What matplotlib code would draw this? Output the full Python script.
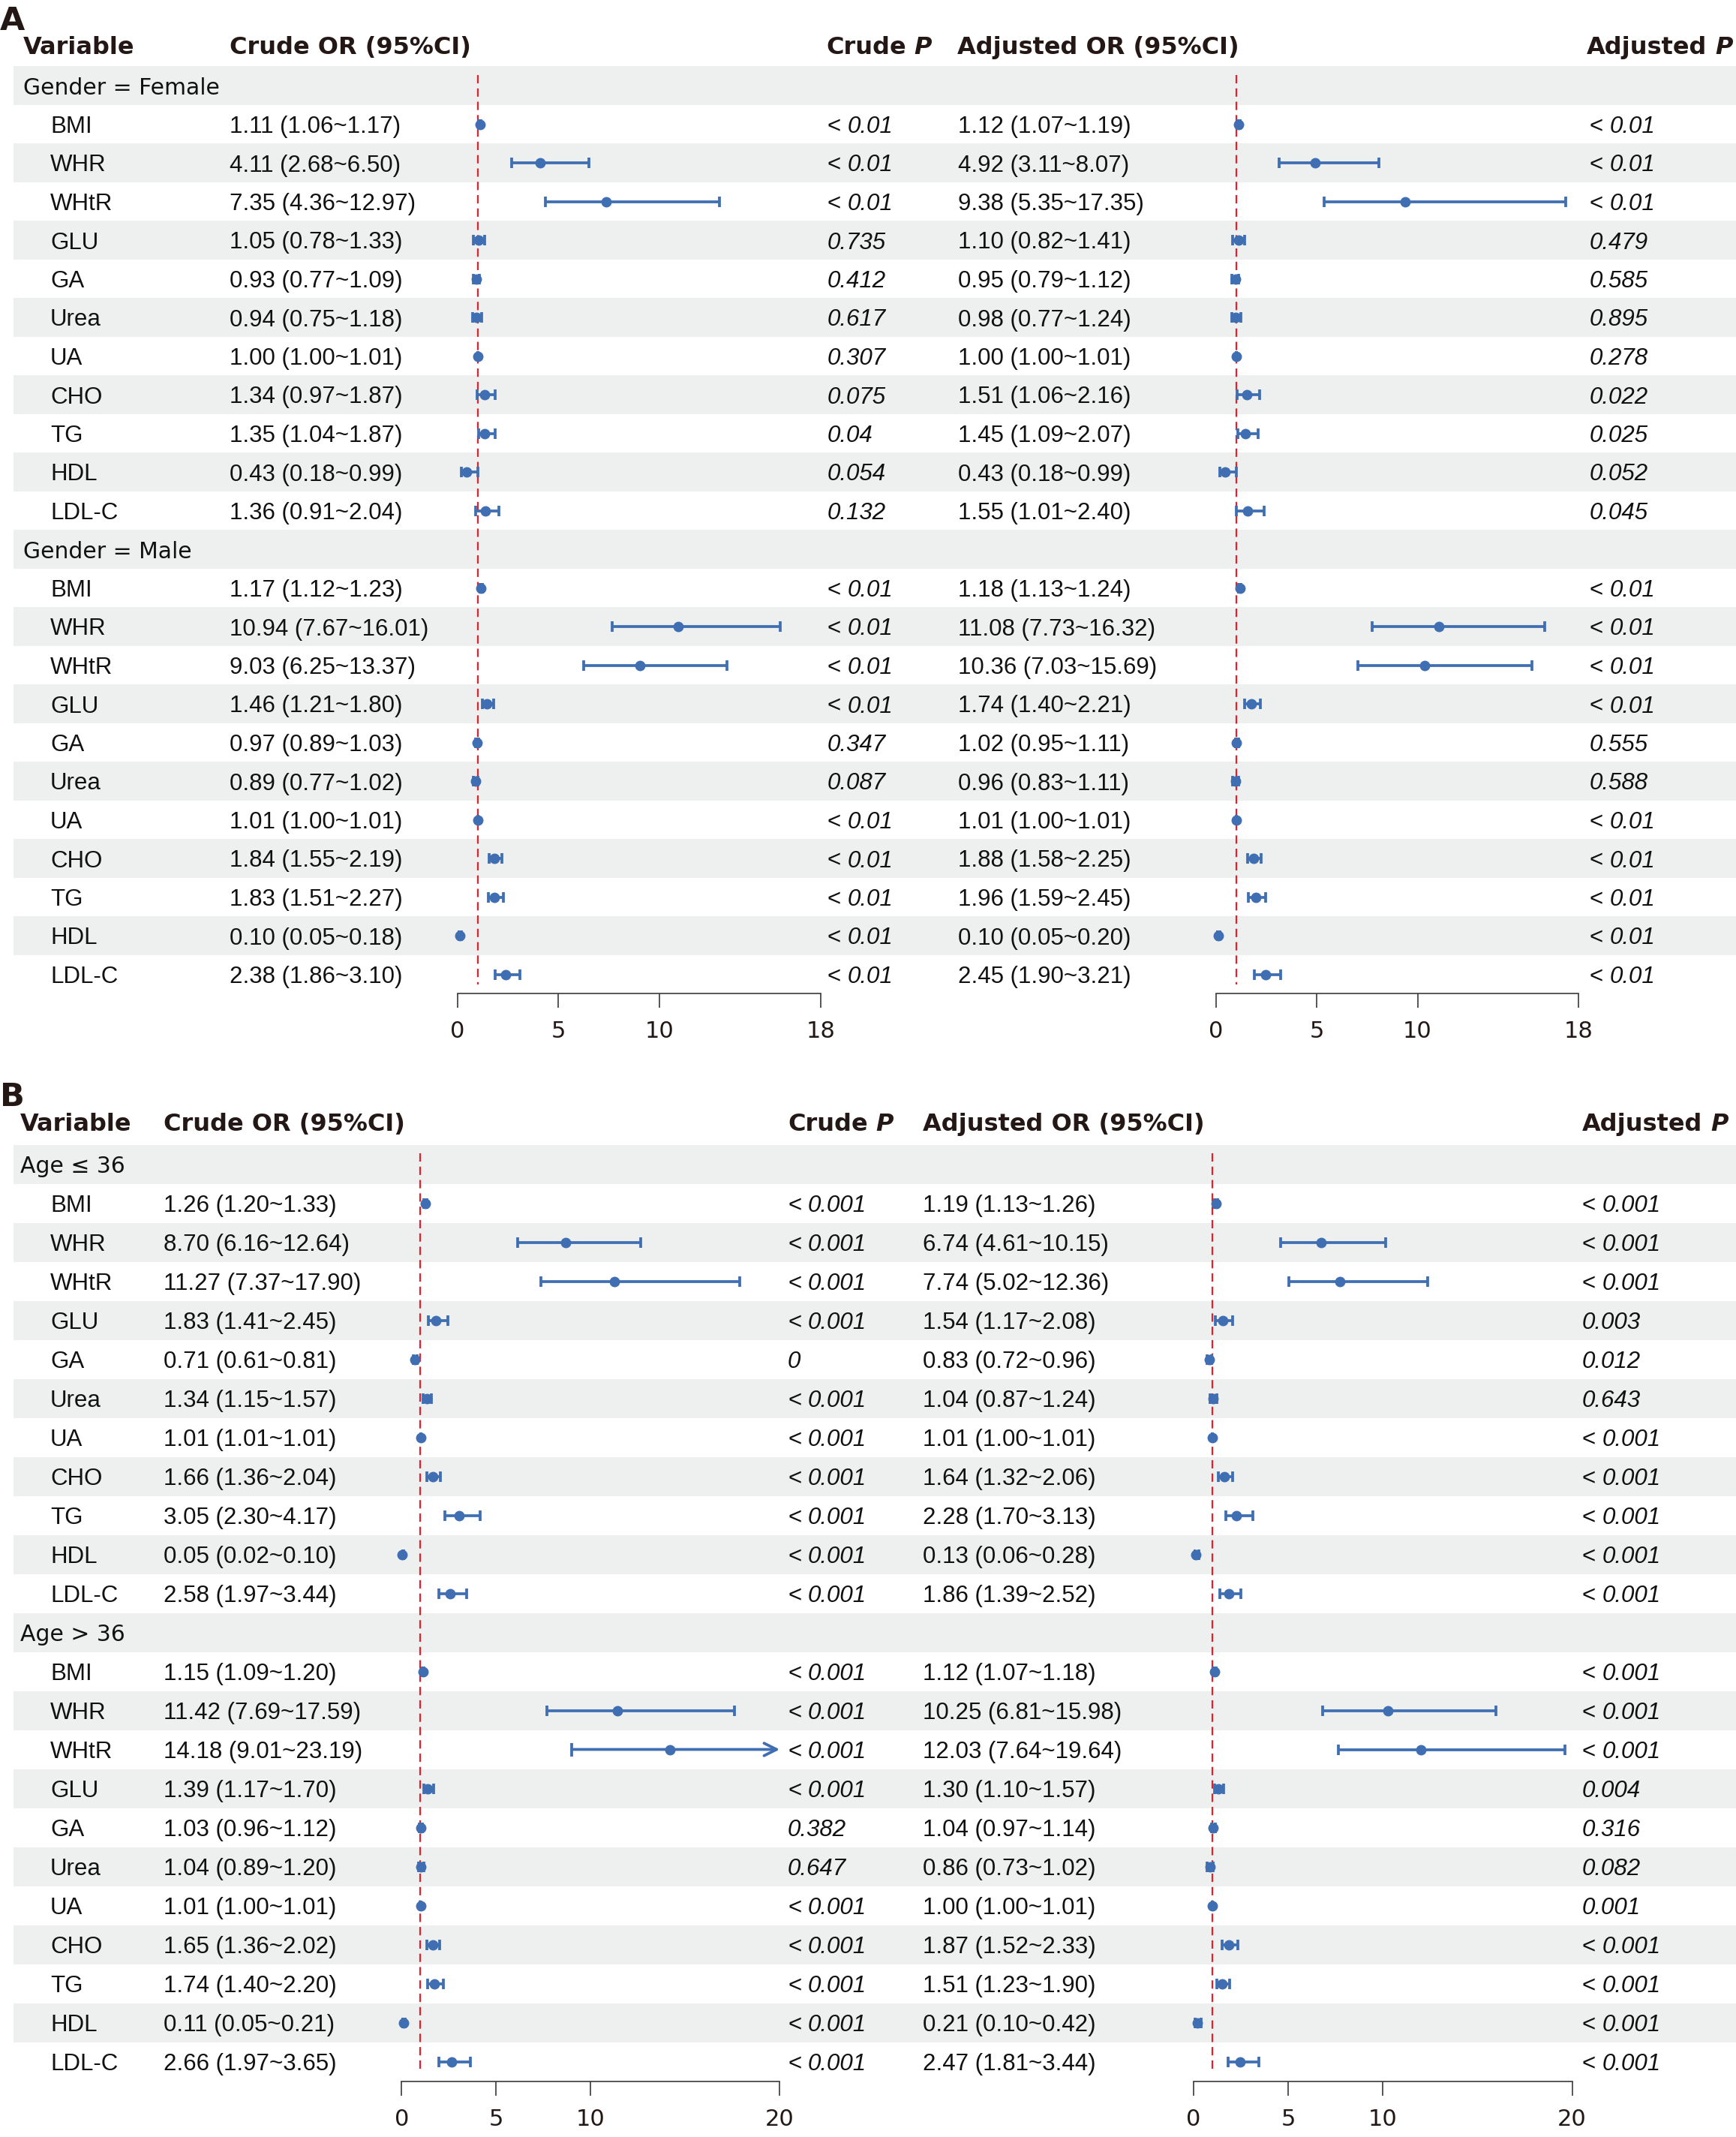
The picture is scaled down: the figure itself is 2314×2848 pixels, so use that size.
import matplotlib
matplotlib.use("Agg")
import matplotlib.pyplot as plt

W, H = 2314, 2848

# ---------------- data ----------------
variables = ["BMI", "WHR", "WHtR", "GLU", "GA", "Urea", "UA", "CHO", "TG", "HDL", "LDL-C"]

a_groups = ["Gender = Female", "Gender = Male"]
a_crude_or = [1.11, 4.11, 7.35, 1.05, 0.93, 0.94, 1.00, 1.34, 1.35, 0.43, 1.36,
              1.17, 10.94, 9.03, 1.46, 0.97, 0.89, 1.01, 1.84, 1.83, 0.10, 2.38]
a_crude_lo = [1.06, 2.68, 4.36, 0.78, 0.77, 0.75, 1.00, 0.97, 1.04, 0.18, 0.91,
              1.12, 7.67, 6.25, 1.21, 0.89, 0.77, 1.00, 1.55, 1.51, 0.05, 1.86]
a_crude_hi = [1.17, 6.50, 12.97, 1.33, 1.09, 1.18, 1.01, 1.87, 1.87, 0.99, 2.04,
              1.23, 16.01, 13.37, 1.80, 1.03, 1.02, 1.01, 2.19, 2.27, 0.18, 3.10]
a_crude_p = ["< 0.01", "< 0.01", "< 0.01", "0.735", "0.412", "0.617", "0.307", "0.075", "0.04", "0.054", "0.132",
             "< 0.01", "< 0.01", "< 0.01", "< 0.01", "0.347", "0.087", "< 0.01", "< 0.01", "< 0.01", "< 0.01", "< 0.01"]
a_adj_or = [1.12, 4.92, 9.38, 1.10, 0.95, 0.98, 1.00, 1.51, 1.45, 0.43, 1.55,
            1.18, 11.08, 10.36, 1.74, 1.02, 0.96, 1.01, 1.88, 1.96, 0.10, 2.45]
a_adj_lo = [1.07, 3.11, 5.35, 0.82, 0.79, 0.77, 1.00, 1.06, 1.09, 0.18, 1.01,
            1.13, 7.73, 7.03, 1.40, 0.95, 0.83, 1.00, 1.58, 1.59, 0.05, 1.90]
a_adj_hi = [1.19, 8.07, 17.35, 1.41, 1.12, 1.24, 1.01, 2.16, 2.07, 0.99, 2.40,
            1.24, 16.32, 15.69, 2.21, 1.11, 1.11, 1.01, 2.25, 2.45, 0.20, 3.21]
a_adj_p = ["< 0.01", "< 0.01", "< 0.01", "0.479", "0.585", "0.895", "0.278", "0.022", "0.025", "0.052", "0.045",
           "< 0.01", "< 0.01", "< 0.01", "< 0.01", "0.555", "0.588", "< 0.01", "< 0.01", "< 0.01", "< 0.01", "< 0.01"]
a_ticks = [0, 5, 10, 18]

b_groups = ["Age \u2264 36", "Age > 36"]
b_crude_or = [1.26, 8.70, 11.27, 1.83, 0.71, 1.34, 1.01, 1.66, 3.05, 0.05, 2.58,
              1.15, 11.42, 14.18, 1.39, 1.03, 1.04, 1.01, 1.65, 1.74, 0.11, 2.66]
b_crude_lo = [1.20, 6.16, 7.37, 1.41, 0.61, 1.15, 1.01, 1.36, 2.30, 0.02, 1.97,
              1.09, 7.69, 9.01, 1.17, 0.96, 0.89, 1.00, 1.36, 1.40, 0.05, 1.97]
b_crude_hi = [1.33, 12.64, 17.90, 2.45, 0.81, 1.57, 1.01, 2.04, 4.17, 0.10, 3.44,
              1.20, 17.59, 23.19, 1.70, 1.12, 1.20, 1.01, 2.02, 2.20, 0.21, 3.65]
b_crude_p = ["< 0.001", "< 0.001", "< 0.001", "< 0.001", "0", "< 0.001", "< 0.001", "< 0.001", "< 0.001", "< 0.001", "< 0.001",
             "< 0.001", "< 0.001", "< 0.001", "< 0.001", "0.382", "0.647", "< 0.001", "< 0.001", "< 0.001", "< 0.001", "< 0.001"]
b_adj_or = [1.19, 6.74, 7.74, 1.54, 0.83, 1.04, 1.01, 1.64, 2.28, 0.13, 1.86,
            1.12, 10.25, 12.03, 1.30, 1.04, 0.86, 1.00, 1.87, 1.51, 0.21, 2.47]
b_adj_lo = [1.13, 4.61, 5.02, 1.17, 0.72, 0.87, 1.00, 1.32, 1.70, 0.06, 1.39,
            1.07, 6.81, 7.64, 1.10, 0.97, 0.73, 1.00, 1.52, 1.23, 0.10, 1.81]
b_adj_hi = [1.26, 10.15, 12.36, 2.08, 0.96, 1.24, 1.01, 2.06, 3.13, 0.28, 2.52,
            1.18, 15.98, 19.64, 1.57, 1.14, 1.02, 1.01, 2.33, 1.90, 0.42, 3.44]
b_adj_p = ["< 0.001", "< 0.001", "< 0.001", "0.003", "0.012", "0.643", "< 0.001", "< 0.001", "< 0.001", "< 0.001", "< 0.001",
           "< 0.001", "< 0.001", "< 0.001", "0.004", "0.316", "0.082", "0.001", "< 0.001", "< 0.001", "< 0.001", "< 0.001"]
b_ticks = [0, 5, 10, 20]

headers = ["Variable", "Crude OR (95%CI)", "Crude", "Adjusted OR (95%CI)", "Adjusted"]

# ---------------- style ----------------
BLUE = "#3F6EB2"
RED = "#E3202B"
SHADE = "#EDF0EF"
DARK = "#231815"
TXT = "#111111"
BODY = ["Liberation Sans", "DejaVu Sans"]
GROUPF = ["DejaVu Sans"]
BODY_SIZE = 22.5
GROUP_SIZE = 21.5
HEAD_SIZE = 23
VA = "center_baseline"

fig = plt.figure(figsize=(W / 100, H / 100), dpi=100)
fig.patch.set_facecolor("white")


def fx(px):
    return px / W


def make_panel(letter, groups, c_or, c_lo, c_hi, c_p, a_or, a_lo, a_hi, a_p, ticks, P):
    row0, dy = P["row0"], P["dy"]
    top = row0 - 0.5 * dy
    bottom = row0 + 23.5 * dy
    ybox = [(H - bottom) / H, (bottom - top) / H]

    bg = fig.add_axes([0, ybox[0], 1, ybox[1]], zorder=0)
    bg.set_xlim(0, W)
    bg.set_ylim(23.5, -0.5)
    bg.axis("off")

    for i in range(0, 24, 2):
        bg.axhspan(i - 0.5, i + 0.5, xmin=18 / W, xmax=1, color=SHADE, lw=0)

    # letter and headers
    hy = (P["head_y"] - row0) / dy
    ly = (P["letter_y"] - row0) / dy
    bg.text(0, ly, letter, fontsize=31, fontweight="bold", family=GROUPF, color=DARK,
            ha="left", va=VA)
    hk = dict(fontsize=HEAD_SIZE, fontweight="bold", family=GROUPF, color=DARK, va=VA, ha="left")
    bg.text(P["h_var"], hy, headers[0], **hk)
    bg.text(P["h_cor"], hy, headers[1], **hk)
    bg.text(P["h_aor"], hy, headers[3], **hk)
    r = fig.canvas.get_renderer()
    for xl, word in ((P["h_cp"], headers[2]), (P["h_ap"], headers[4])):
        t = bg.text(xl, hy, word, **hk)
        bb = t.get_window_extent(renderer=r)
        bg.text(bb.x1 + 11, hy, "P", fontsize=HEAD_SIZE, fontweight="bold", style="italic",
                family=GROUPF, color=DARK, va=VA, ha="left")

    # rows
    data_rows = []
    k = 0
    for g, gname in enumerate(groups):
        grow = g * 12
        bg.text(P["c_grp"], grow, gname, fontsize=GROUP_SIZE, family=GROUPF, color=TXT,
                ha="left", va=VA)
        for j, v in enumerate(variables):
            y = grow + 1 + j
            data_rows.append(y)
            bg.text(P["c_name"], y, v, fontsize=BODY_SIZE, family=BODY, color=TXT, ha="left", va=VA)
            bg.text(P["c_cor"], y, f"{c_or[k]:.2f} ({c_lo[k]:.2f}~{c_hi[k]:.2f})",
                    fontsize=BODY_SIZE, family=BODY, color=TXT, ha="left", va=VA)
            bg.text(P["c_aor"], y, f"{a_or[k]:.2f} ({a_lo[k]:.2f}~{a_hi[k]:.2f})",
                    fontsize=BODY_SIZE, family=BODY, color=TXT, ha="left", va=VA)
            for xp, pv in ((P["c_cp"], c_p[k]), (P["c_ap"], a_p[k])):
                if pv.startswith("<"):
                    bg.text(xp, y, "<", fontsize=BODY_SIZE, family=BODY, color=TXT, ha="left", va=VA)
                    bg.text(xp + 27, y, pv[2:], fontsize=BODY_SIZE, family=BODY, style="italic",
                            color=TXT, ha="left", va=VA)
                else:
                    bg.text(xp, y, pv, fontsize=BODY_SIZE, family=BODY, style="italic",
                            color=TXT, ha="left", va=VA)
            k += 1

    # forest axes
    for (x0, x1), est, lo, hi in ((P["f_crude"], c_or, c_lo, c_hi), (P["f_adj"], a_or, a_lo, a_hi)):
        ax = fig.add_axes([fx(x0), ybox[0], fx(x1 - x0), ybox[1]], zorder=2)
        ax.patch.set_visible(False)
        xmax = ticks[-1]
        ax.set_xlim(0, xmax)
        ax.set_ylim(23.5, -0.5)
        ax.vlines(1, -0.27, 23.27, colors=RED, linestyles=(0, (5, 3)), lw=1.6, zorder=1)
        for y, e, l, h in zip(data_rows, est, lo, hi):
            if h > xmax:
                ax.annotate("", xy=(xmax, y), xytext=(l, y),
                            arrowprops=dict(arrowstyle="->", color=BLUE, lw=2.7, mutation_scale=30,
                                            shrinkA=0, shrinkB=0), annotation_clip=False, zorder=3)
                ax.plot([l], [y], marker="|", ms=13, mew=2.7, color=BLUE, clip_on=False, zorder=3)
            else:
                ax.errorbar([e], [y], xerr=[[e - l], [h - e]], fmt="none", ecolor=BLUE,
                            elinewidth=2.7, capsize=4.7, capthick=2.7, zorder=3)
            ax.plot([e], [y], "o", ms=9, color=BLUE, mec=BLUE, clip_on=False, zorder=4)
        for s in ("top", "left", "right"):
            ax.spines[s].set_visible(False)
        ax.spines["bottom"].set_color("#3a3a3a")
        ax.spines["bottom"].set_linewidth(1.2)
        ax.set_yticks([])
        ax.set_xticks(ticks)
        ax.set_xticklabels([str(t) for t in ticks], family="DejaVu Sans")
        ax.tick_params(axis="x", length=14, width=1.2, color="#3a3a3a", pad=12,
                       labelsize=22, labelcolor=DARK)


PA = dict(row0=114, dy=51.5, head_y=60, letter_y=24,
          h_var=31, h_cor=306, h_cp=1101, h_aor=1276, h_ap=2115,
          c_grp=31, c_name=67, c_cor=306, c_cp=1103, c_aor=1277, c_ap=2119,
          f_crude=(610, 1093.8), f_adj=(1621, 2104.3))
PB = dict(row0=1551.5, dy=52.0, head_y=1495, letter_y=1457,
          h_var=27, h_cor=218, h_cp=1050, h_aor=1230, h_ap=2109,
          c_grp=27, c_name=67, c_cor=218, c_cp=1050, c_aor=1230, c_ap=2109,
          f_crude=(535.2, 1039.3), f_adj=(1590.9, 2095.5))

make_panel("A", a_groups, a_crude_or, a_crude_lo, a_crude_hi, a_crude_p,
           a_adj_or, a_adj_lo, a_adj_hi, a_adj_p, a_ticks, PA)
make_panel("B", b_groups, b_crude_or, b_crude_lo, b_crude_hi, b_crude_p,
           b_adj_or, b_adj_lo, b_adj_hi, b_adj_p, b_ticks, PB)

fig.savefig("out.png", dpi=100, facecolor="white")
